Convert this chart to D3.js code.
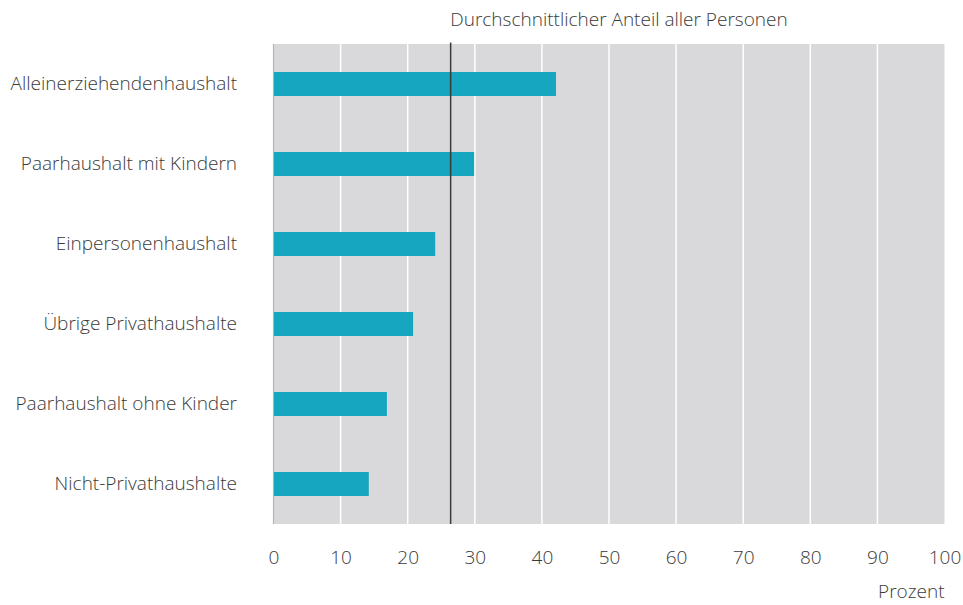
<!DOCTYPE html>
<html>
<head>
<meta charset="utf-8">
<script src="https://cdn.jsdelivr.net/npm/d3@7"></script>
<style>
  body { margin: 0; background: #fff; }
  svg text { font-family: "Open Sans", "Noto Sans", sans-serif; font-weight: 300; fill: #3a3a3a; }
</style>
</head>
<body>
<div id="chart"></div>
<script>
const categories = [
  'Alleinerziehendenhaushalt',
  'Paarhaushalt mit Kindern',
  'Einpersonenhaushalt',
  'Übrige Privathaushalte',
  'Paarhaushalt ohne Kinder',
  'Nicht-Privathaushalte'
];
const values = [42.1, 29.9, 24.1, 20.8, 16.9, 14.2];
const average = 26.4;
const xTicks = [0, 10, 20, 30, 40, 50, 60, 70, 80, 90, 100];
const avgLabel = 'Durchschnittlicher Anteil aller Personen';
const unitLabel = 'Prozent';

function createChart() {
    const width = 963;
    const height = 605;
    const margin = { top: 44, right: 18.5, bottom: 81, left: 273.5 };
    const fontSize = '19px';

    const svg = d3
    .select('#chart')
    .append('svg')
    .attr('width', width)
    .attr('height', height);

    const xScale = d3
    .scaleLinear()
    .domain([0, 100])
    .range([margin.left, width - margin.right]);

    const yScale = d3
    .scaleBand()
    .domain(categories)
    .range([margin.top, height - margin.bottom])
    .paddingInner(0.7)
    .paddingOuter(0.35);

    // background of plot area
    svg.append('rect')
    .attr('x', xScale(0))
    .attr('y', margin.top)
    .attr('width', xScale(100) - xScale(0))
    .attr('height', height - margin.bottom - margin.top)
    .attr('fill', '#d9d9db');

    // white vertical gridlines
    svg.append('g')
    .selectAll('line')
    .data(xTicks.filter(d => d > 0 && d < 100))
    .join('line')
    .attr('x1', d => xScale(d))
    .attr('x2', d => xScale(d))
    .attr('y1', margin.top)
    .attr('y2', height - margin.bottom)
    .attr('stroke', '#fff')
    .attr('stroke-width', 1.5);

    // left axis line
    svg.append('line')
    .attr('x1', xScale(0))
    .attr('x2', xScale(0))
    .attr('y1', margin.top)
    .attr('y2', height - margin.bottom)
    .attr('stroke', '#b5b5b7')
    .attr('stroke-width', 1.2);

    // bars
    svg.append('g')
    .selectAll('rect')
    .data(values)
    .join('rect')
    .attr('x', xScale(0) + 0.5)
    .attr('y', (d, i) => yScale(categories[i]))
    .attr('width', d => xScale(d) - xScale(0) - 0.5)
    .attr('height', yScale.bandwidth())
    .attr('fill', '#16a6c0');

    // average line
    svg.append('line')
    .attr('x1', xScale(average))
    .attr('x2', xScale(average))
    .attr('y1', margin.top - 1.5)
    .attr('y2', height - margin.bottom)
    .attr('stroke', '#3a3a3c')
    .attr('stroke-width', 1.5);

    svg.append('text')
    .attr('x', 619)
    .attr('y', 26)
    .attr('text-anchor', 'middle')
    .style('font-size', fontSize)
    .text(avgLabel);

    // category labels
    svg.append('g')
    .selectAll('text')
    .data(categories)
    .join('text')
    .attr('x', 237)
    .attr('y', d => yScale(d) + yScale.bandwidth() / 2)
    .attr('dy', '0.3em')
    .attr('text-anchor', 'end')
    .style('font-size', fontSize)
    .text(d => d);

    // x tick labels
    const xAxis = d3.axisBottom(xScale).tickValues(xTicks).tickSize(0).tickPadding(0);
    const gx = svg.append('g')
    .attr('transform', `translate(0, ${height - margin.bottom + 33})`)
    .call(xAxis);
    gx.select('.domain').remove();
    gx.selectAll('text')
    .attr('y', 0)
    .attr('dy', '0.35em')
    .style('font-size', fontSize)
    .attr('fill', null);

    svg.append('text')
    .attr('x', xScale(100))
    .attr('y', 598)
    .attr('text-anchor', 'end')
    .style('font-size', fontSize)
    .text(unitLabel);
}

createChart();
</script>
</body>
</html>
